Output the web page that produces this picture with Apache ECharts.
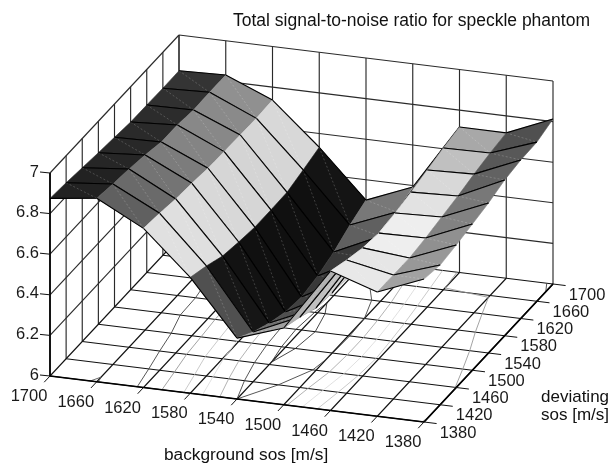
<!DOCTYPE html>
<html>
<head>
<meta charset="utf-8">
<style>html,body{margin:0;padding:0;background:#fff}#c{width:612px;height:463px}</style>
<script src="https://cdn.jsdelivr.net/npm/echarts@6/dist/echarts.min.js"></script>
</head>
<body>
<div id="c"></div>
<script>
// ---- tick labels -------------------------------------------------------
const backgroundSos = [1700, 1660, 1620, 1580, 1540, 1500, 1460, 1420, 1380];
const deviatingSos = [1380, 1420, 1460, 1500, 1540, 1580, 1620, 1660, 1700];
const snrTicks = [6, 6.2, 6.4, 6.6, 6.8, 7];
const contourLevels = [6.2, 6.3, 6.4, 6.5, 6.6, 6.7, 6.8, 6.9];

// ---- SNR values, one list per background sos, ordered as deviatingSos ---
const snrAt1700 = [6.875, 6.867, 6.856, 6.845, 6.836, 6.826, 6.825, 6.823, 6.824];
const snrAt1660 = [6.904, 6.889, 6.878, 6.862, 6.841, 6.840, 6.829, 6.831, 6.831];
const snrAt1620 = [6.784, 6.773, 6.759, 6.751, 6.740, 6.737, 6.734, 6.731, 6.736];
const snrAt1580 = [6.571, 6.542, 6.506, 6.490, 6.478, 6.478, 6.480, 6.505, 6.532];
const snrAt1540 = [6.300, 6.245, 6.204, 6.174, 6.163, 6.181, 6.214, 6.262, 6.300];
const snrAt1500 = [6.378, 6.347, 6.307, 6.296, 6.289, 6.300, 6.320, 6.355, 6.393];
const snrAt1460 = [6.687, 6.656, 6.631, 6.619, 6.633, 6.651, 6.675, 6.698, 6.717];
const snrAt1420 = [6.612, 6.611, 6.610, 6.623, 6.642, 6.660, 6.683, 6.702, 6.716];
const snrAt1380 = [6.704, 6.688, 6.702, 6.720, 6.739, 6.767, 6.781, 6.784, 6.813];
const snr = [snrAt1700, snrAt1660, snrAt1620, snrAt1580, snrAt1540, snrAt1500, snrAt1460, snrAt1420, snrAt1380];

// ---- facet shading (grey level of each facet) --
const facetGrey = [
  [0x22, 0x22, 0x26, 0x28, 0x2a, 0x2c, 0x30, 0x34],
  [0x60, 0x6a, 0x74, 0x7c, 0x84, 0x88, 0x8a, 0x90],
  [0xe0, 0xdf, 0xdc, 0xd8, 0xd6, 0xd4, 0xd6, 0xd8],
  [0x50, 0x16, 0x12, 0x10, 0x10, 0x10, 0x10, 0x14],
  [0xa0, 0x70, 0x50, 0x40, 0x38, 0x38, 0x60, 0x78],
  [0xb0, 0xc0, 0xd0, 0xd8, 0x90, 0x90, 0x90, 0x90],
  [0xe8, 0xe6, 0xee, 0xee, 0xe2, 0xd8, 0xc0, 0xa8],
  [0xa2, 0x98, 0x90, 0x82, 0x78, 0x62, 0x58, 0x50]
];

// ---- oblique view of the box, mapped to the hidden plane's units --------
const origin = [50, 376], bgSpan = [374, 46], devSpan = [129, -138], zPerUnit = 203;
function project(bg, dev, z) {
  const u = (backgroundSos[0] - bg) / (backgroundSos[0] - backgroundSos[8]);
  const v = (dev - deviatingSos[0]) / (deviatingSos[8] - deviatingSos[0]);
  return [origin[0] + u * bgSpan[0] + v * devSpan[0],
          origin[1] + u * bgSpan[1] + v * devSpan[1] - (z - 6) * zPerUnit];
}
const FONT = '"Liberation Sans", Arial, sans-serif';
const BG0 = backgroundSos[0], BG1 = backgroundSos[8], DV0 = deviatingSos[0], DV1 = deviatingSos[8], Z0 = 6, Z1 = 7;

function lineSeries(rows, color, width) {
  return {
    type: 'custom', coordinateSystem: 'cartesian2d', silent: true, clip: false, data: rows,
    encode: { x: 0, y: 1 },
    renderItem(params, api) {
      const r = rows[params.dataIndex];
      const a = api.coord(project(r[0], r[1], r[2]));
      const b = api.coord(project(r[3], r[4], r[5]));
      return { type: 'line', shape: { x1: a[0], y1: a[1], x2: b[0], y2: b[1] },
               style: { stroke: color, lineWidth: width, fill: null } };
    }
  };
}

// walls and floor
const wallRows = [], floorRows = [], frameRows = [];
backgroundSos.forEach(b => {
  wallRows.push([b, DV1, Z0, b, DV1, Z1]);
  floorRows.push([b, DV0, Z0, b, DV1, Z0]);
});
deviatingSos.forEach(d => {
  wallRows.push([BG0, d, Z0, BG0, d, Z1]);
  floorRows.push([BG0, d, Z0, BG1, d, Z0]);
});
snrTicks.slice(1).forEach(z => {
  wallRows.push([BG0, DV0, z, BG0, DV1, z]);
  wallRows.push([BG0, DV1, z, BG1, DV1, z]);
});
frameRows.push([BG0, DV0, Z0, BG1, DV0, Z0], [BG1, DV0, Z0, BG1, DV1, Z0], [BG0, DV0, Z0, BG0, DV0, Z1]);

// ticks
const tickRows = [];
const bgStep = (BG0 - BG1) / 8, dvStep = (DV1 - DV0) / 8;
backgroundSos.forEach(b => tickRows.push([b, DV0, Z0, b, DV0 - dvStep * 0.36, Z0]));
deviatingSos.forEach(d => tickRows.push([BG1, d, Z0, BG1 - bgStep * 0.27, d, Z0]));

// floor contours derived from the surface values
function contourRows(level) {
  const rows = [];
  const bgOf = u => BG0 - u * bgStep, dvOf = v => DV0 + v * dvStep;
  for (let i = 0; i < 8; i++) for (let j = 0; j < 8; j++) {
    const c = [[i, j], [i + 1, j], [i + 1, j + 1], [i, j + 1]];
    const hits = [];
    for (let k = 0; k < 4; k++) {
      const p = c[k], q = c[(k + 1) % 4];
      const zp = snr[p[0]][p[1]], zq = snr[q[0]][q[1]];
      if ((zp < level) !== (zq < level)) {
        const t = (level - zp) / (zq - zp);
        hits.push([bgOf(p[0] + t * (q[0] - p[0])), dvOf(p[1] + t * (q[1] - p[1]))]);
      }
    }
    for (let h = 0; h + 1 < hits.length; h += 2)
      rows.push([hits[h][0], hits[h][1], Z0, hits[h + 1][0], hits[h + 1][1], Z0]);
  }
  return rows;
}
const contourInk = { 6.2: '#333', 6.3: '#444', 6.4: '#aaa', 6.5: '#ddd', 6.6: '#c4c4c4', 6.7: '#999', 6.8: '#444', 6.9: '#555' };
const contourSeries = contourLevels.map(l => lineSeries(contourRows(l), contourInk[l], 0.9));

// surface facets: strips left to right, each from the back to the front
const facetRows = [];
for (let i = 0; i < 8; i++) for (let j = 7; j >= 0; j--) facetRows.push([i, j, snr[i][j]]);
const surfaceSeries = {
  type: 'custom', coordinateSystem: 'cartesian2d', silent: true, clip: false,
  data: facetRows, encode: { x: 0, y: 1 },
  renderItem(params, api) {
    const [i, j] = facetRows[params.dataIndex];
    const pt = (a, b) => api.coord(project(backgroundSos[a], deviatingSos[b], snr[a][b]));
    const p00 = pt(i, j), p10 = pt(i + 1, j), p11 = pt(i + 1, j + 1), p01 = pt(i, j + 1);
    const g = facetGrey[i][j];
    const fill = 'rgb(' + g + ',' + g + ',' + g + ')';
    const seg = (a, b, style) => ({ type: 'line', shape: { x1: a[0], y1: a[1], x2: b[0], y2: b[1] }, style });
    return {
      type: 'group',
      children: [
        { type: 'polygon', shape: { points: [p00, p10, p11, p01] }, style: { fill, stroke: fill, lineWidth: 0.6 } },
        seg(p01, p10, { stroke: 'rgba(255,255,255,0.32)', lineWidth: 0.6, lineDash: [2, 2], fill: null }),
        seg(p00, p10, { stroke: '#000', lineWidth: 1.1, fill: null }),
        seg(p01, p11, { stroke: '#000', lineWidth: 1.1, fill: null })
      ]
    };
  }
};

// tick labels, placed from the axis positions
function labelSeries(rows, dx, dy, align) {
  return {
    type: 'custom', coordinateSystem: 'cartesian2d', silent: true, clip: false, data: rows,
    encode: { x: 0, y: 1 },
    renderItem(params, api) {
      const r = rows[params.dataIndex];
      const a = api.coord(project(r[0], r[1], r[2]));
      return { type: 'text', style: { text: String(r[3]), x: a[0] + dx, y: a[1] + dy, textAlign: align,
               textVerticalAlign: 'middle', fontSize: 16.5, fontFamily: FONT, fill: '#1a1a1a' } };
    }
  };
}
const bgLabels = labelSeries(backgroundSos.map(b => [b, DV0, Z0, b]), -21, 20.5, 'center');
const dvLabels = labelSeries(deviatingSos.map(d => [BG1, d, Z0, d]), 34, 11, 'center');
const zLabels = labelSeries(snrTicks.map(z => [BG0, DV0, z, z]), -11, -1, 'right');
const zTickRows = snrTicks.map(z => [BG0, DV0, z]);
const zTickSeries = {
  type: 'custom', coordinateSystem: 'cartesian2d', silent: true, clip: false, data: zTickRows,
  encode: { x: 0, y: 1 },
  renderItem(params, api) {
    const r = zTickRows[params.dataIndex];
    const a = api.coord(project(r[0], r[1], r[2]));
    return { type: 'line', shape: { x1: a[0] - 10, y1: a[1] - 1, x2: a[0], y2: a[1] }, style: { stroke: '#111', lineWidth: 1, fill: null } };
  }
};

const chart = echarts.init(document.getElementById('c'), null, { renderer: 'canvas', width: 612, height: 463 });
chart.setOption({
  animation: false,
  backgroundColor: '#fff',
  title: {
    text: 'Total signal-to-noise ratio for speckle phantom',
    left: 228, top: 7,
    textStyle: { fontFamily: FONT, fontSize: 17.5, fontWeight: 'normal', color: '#111' }
  },
  grid: { left: 0, right: 0, top: 0, bottom: 0 },
  xAxis: { type: 'value', min: 0, max: 612, show: false },
  yAxis: { type: 'value', min: 0, max: 463, inverse: true, show: false },
  graphic: [
    { type: 'text', left: 164, top: 447, style: { text: 'background sos [m/s]', fontFamily: FONT, fontSize: 17.3, fill: '#111' } },
    { type: 'text', left: 541, top: 389, style: { text: 'deviating', fontFamily: FONT, fontSize: 17, fill: '#111' } },
    { type: 'text', left: 541, top: 407, style: { text: 'sos [m/s]', fontFamily: FONT, fontSize: 17, fill: '#111' } }
  ],
  series: [
    lineSeries(wallRows, '#2a2a2a', 1.15),
    lineSeries(floorRows, '#111', 1.1),
    ...contourSeries,
    lineSeries(frameRows, '#000', 1.7),
    lineSeries(tickRows, '#111', 1),
    zTickSeries,
    surfaceSeries,
    bgLabels, dvLabels, zLabels
  ]
});
</script>
</body>
</html>
